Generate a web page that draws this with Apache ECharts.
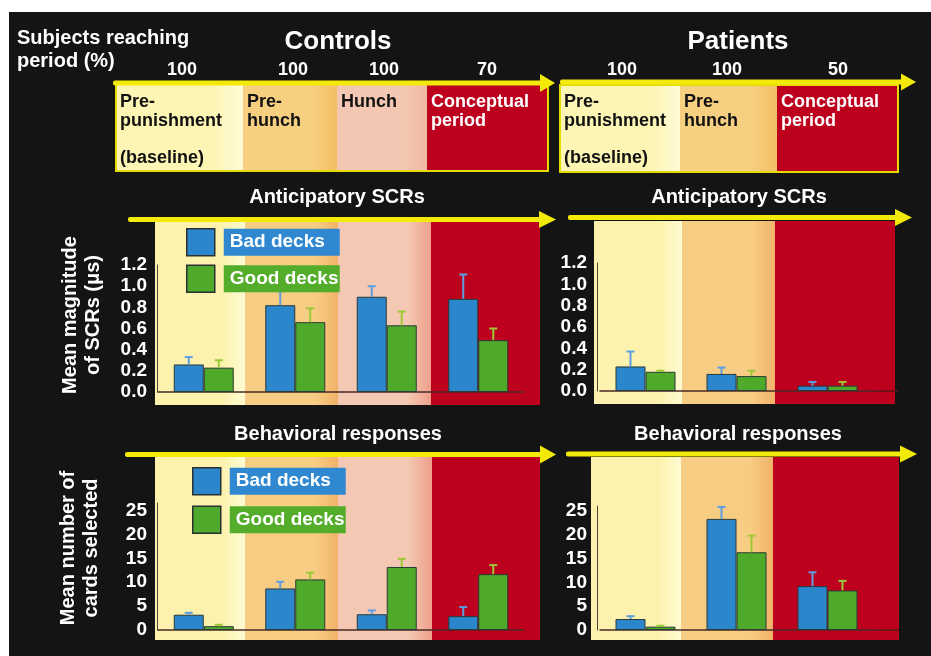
<!DOCTYPE html>
<html lang="en">
<head>
<meta charset="UTF-8">
<title>Anticipatory SCRs and behavioral responses</title>
<style>
	html,body{margin:0;padding:0;background:#fff;overflow:hidden;}
	#main{width:931px;height:656px;}
</style>
</head>
<body>
<div id="main"></div>
<script src="https://cdn.jsdelivr.net/npm/echarts@6.0.0/dist/echarts.min.js"></script>
<script>
// ---- data ----
var controlsPhases = ['Pre-punishment', 'Pre-hunch', 'Hunch', 'Conceptual period'];
var patientsPhases = ['Pre-punishment', 'Pre-hunch', 'Conceptual period'];
var controlsReaching = [100, 100, 100, 70];
var patientsReaching = [100, 100, 50];

// anticipatory SCRs (microsiemens), bar height and error length
var scrControlsBad = [0.26, 0.82, 0.90, 0.88];
var scrControlsBadErr = [0.07, 0.13, 0.10, 0.23];
var scrControlsGood = [0.23, 0.66, 0.63, 0.49];
var scrControlsGoodErr = [0.07, 0.13, 0.13, 0.11];
var scrPatientsBad = [0.23, 0.16, 0.05];
var scrPatientsBadErr = [0.14, 0.06, 0.035];
var scrPatientsGood = [0.18, 0.14, 0.05];
var scrPatientsGoodErr = [0.01, 0.05, 0.035];

// behavioral responses (mean number of cards)
var behControlsBad = [3.2, 8.7, 3.3, 2.9];
var behControlsBadErr = [0.4, 1.4, 0.8, 1.9];
var behControlsGood = [0.8, 10.6, 13.2, 11.7];
var behControlsGoodErr = [0.3, 1.4, 1.7, 1.9];
var behPatientsBad = [2.3, 23.3, 9.2];
var behPatientsBadErr = [0.6, 2.5, 2.9];
var behPatientsGood = [0.7, 16.3, 8.3];
var behPatientsGoodErr = [0.2, 3.5, 2.0];

// ---- styling ----
var FONT = '"Liberation Sans", Arial, Helvetica, sans-serif';
var BLUE = '#2c86cc', GREEN = '#4fa92a';
var BLUE_ERR = '#5d9ee0', GREEN_ERR = '#9cc834';
var EDGE = '#2a3a36';
var YEL = '#f3ea0a';
var C_PRE = ['#fcf2ae', '#fffbd2'];
var C_PH = ['#f7cd84', '#f1b268'];
var C_HU = ['#f4c8b2', '#ee9f8a'];
var C_CO = ['#bd001e', '#bd001e'];

function txt(x, y, s, size, color, align, extra) {
	var el = {type:'text', x:x, y:y, z:50, silent:true,
		style:{text:s, fill:color || '#fff', font:'bold ' + size + 'px ' + FONT,
			textAlign:align || 'left', textVerticalAlign:'middle'}};
	if (extra) for (var k in extra) el[k] = extra[k];
	return el;
}
function band(x1, x2, y1, y2, c) {
	return {type:'rect', z:-5, silent:true, shape:{x:x1, y:y1, width:x2 - x1, height:y2 - y1},
		style:{fill:{type:'linear', x:0, y:0, x2:1, y2:0,
			colorStops:[{offset:0, color:c[0]}, {offset:0.75, color:c[0]}, {offset:1, color:c[1]}]}}};
}
function arrow(x1, x2, y, hw, hh) {
	return [
		{type:'rect', z:-3, silent:true, shape:{x:x1, y:y - 2.5, width:x2 - x1 - hw + 2, height:5, r:2}, style:{fill:YEL}},
		{type:'polygon', z:-3, silent:true, shape:{points:[[x2 - hw, y - hh], [x2, y], [x2 - hw, y + hh]]}, style:{fill:YEL}}
	];
}

var graphics = [
	{type:'rect', z:-20, silent:true, shape:{x:9, y:12, width:922, height:644}, style:{fill:'#141414'}},
	txt(17, 38, 'Subjects reaching', 20),
	txt(17, 61, 'period (%)', 20),
	txt(338, 42, 'Controls', 26, '#fff', 'center'),
	txt(738, 42, 'Patients', 26, '#fff', 'center'),
	txt(337, 197, 'Anticipatory SCRs', 20, '#fff', 'center'),
	txt(739, 197, 'Anticipatory SCRs', 20, '#fff', 'center'),
	txt(338, 434, 'Behavioral responses', 20, '#fff', 'center'),
	txt(738, 434, 'Behavioral responses', 20, '#fff', 'center'),
	txt(70, 315, 'Mean magnitude', 20, '#fff', 'center', {rotation:Math.PI / 2}),
	txt(93, 315, 'of SCRs (\u03bcs)', 20, '#fff', 'center', {rotation:Math.PI / 2}),
	txt(68, 548, 'Mean number of', 20, '#fff', 'center', {rotation:Math.PI / 2}),
	txt(91, 548, 'cards selected', 20, '#fff', 'center', {rotation:Math.PI / 2})
];

// header strip: phase boxes
var hdrCtrlX = [116, 243, 337, 427, 548];
var hdrPatX = [560, 680, 777, 898];
var hdrCtrlCol = [['#fdf5b4', '#fffbd6'], ['#f6cf80', '#f3be62'], ['#f3c7b1', '#f1b9a3'], C_CO];
var hdrPatCol = [['#fdf5b4', '#fffbd6'], ['#f6cf80', '#f3be62'], C_CO];
var hdrCtrlTxt = ['Pre-\npunishment\n\n(baseline)', 'Pre-\nhunch', 'Hunch', 'Conceptual\nperiod'];
var hdrPatTxt = ['Pre-\npunishment\n\n(baseline)', 'Pre-\nhunch', 'Conceptual\nperiod'];
var numCtrlX = [182, 293, 384, 487];
var numPatX = [622, 727, 838];

function header(xs, cols, labels, nums, numX, top, bottom) {
	for (var i = 0; i < cols.length; i++) {
		graphics.push(band(xs[i], xs[i + 1], top, bottom, cols[i]));
		graphics.push({type:'text', x:xs[i] + 4, y:93, z:50, silent:true,
			style:{text:labels[i], fill:cols[i] === C_CO ? '#fff' : '#111', font:'bold 18px ' + FONT,
				lineHeight:18.7, textAlign:'left', textVerticalAlign:'top'}});
		graphics.push(txt(numX[i], 70, String(nums[i]), 18, '#fff', 'center'));
	}
	graphics.push({type:'rect', z:-4, silent:true,
		shape:{x:xs[0], y:top, width:xs[xs.length - 1] - xs[0], height:bottom - top},
		style:{fill:null, stroke:'#e4dc00', lineWidth:2}});
}
header(hdrCtrlX, hdrCtrlCol, hdrCtrlTxt, controlsReaching, numCtrlX, 84, 171);
header(hdrPatX, hdrPatCol, hdrPatTxt, patientsReaching, numPatX, 85, 172);
graphics = graphics.concat(arrow(113, 555, 83, 15, 9), arrow(560, 916, 82, 15, 8.5));

// chart panels: coloured phase bands behind the plots
function bands(xs, cols, top, bottom) {
	for (var i = 0; i < cols.length; i++) graphics.push(band(xs[i], xs[i + 1], top, bottom, cols[i]));
}
bands([155, 245, 338, 431, 540], [C_PRE, C_PH, C_HU, C_CO], 222, 405);
bands([594, 682, 775, 895], [C_PRE, C_PH, C_CO], 221, 404);
bands([155, 245, 338, 432, 540], [C_PRE, C_PH, C_HU, C_CO], 457, 640);
bands([591, 681, 773, 899], [C_PRE, C_PH, C_CO], 457, 640);
graphics = graphics.concat(
	arrow(128, 556, 219.5, 17, 8.5), arrow(568, 912, 217.5, 17, 8.5),
	arrow(125, 556, 454.5, 16, 9), arrow(566, 917, 454, 17, 8.5));
// zero line continues a little past the last patient bars
graphics.push({type:'line', z:-2, silent:true, shape:{x1:873, y1:391, x2:898, y2:391}, style:{stroke:'#5a1a1a', lineWidth:1.5}});
graphics.push({type:'line', z:-2, silent:true, shape:{x1:873, y1:630, x2:899, y2:630}, style:{stroke:'#5a1a1a', lineWidth:1.5}});

// ---- grids / axes ----
var grids = [
	{left:158, top:265, width:366, height:127},
	{left:600, top:263, width:273, height:128},
	{left:158, top:503, width:366, height:127},
	{left:600, top:506, width:273, height:124}
];
var cats = [controlsPhases, patientsPhases, controlsPhases, patientsPhases];
var maxes = [1.2, 1.2, 26.6, 26];
var xAxes = [], yAxes = [];
for (var g = 0; g < 4; g++) {
	xAxes.push({gridIndex:g, type:'category', data:cats[g],
		axisLine:{lineStyle:{color:'#4a2a24', width:1.5}}, axisTick:{show:false}, axisLabel:{show:false}});
	yAxes.push({gridIndex:g, type:'value', min:0, max:maxes[g], interval:g < 2 ? 0.2 : 5,
		offset:g % 2 ? 3 : 1,
		axisLine:{show:true, lineStyle:{color:'#4a4a38', width:1}}, axisTick:{show:false}, splitLine:{show:false},
		axisLabel:{color:'#fff', fontFamily:FONT, fontWeight:'bold', fontSize:19, margin:10,
			formatter:g < 2 ? function (v) { return v.toFixed(1); } : function (v) { return v > 25 ? '' : v; }}});
}

function errSeries(gi, vals, errs, shift, color) {
	return {type:'custom', name:'err', xAxisIndex:gi, yAxisIndex:gi, z:3, silent:true,
		encode:{x:0, y:1},
		data:vals.map(function (v, i) { return [i, v, v + errs[i]]; }),
		renderItem:function (params, api) {
			var lo = api.coord([api.value(0), api.value(1)]);
			var hi = api.coord([api.value(0), api.value(2)]);
			var x = lo[0] + shift;
			return {type:'group', children:[
				{type:'line', shape:{x1:x, y1:lo[1], x2:x, y2:hi[1]}, style:{stroke:color, lineWidth:2}},
				{type:'line', shape:{x1:x - 4, y1:hi[1], x2:x + 4, y2:hi[1]}, style:{stroke:color, lineWidth:2}}
			]};
		}};
}
function panel(gi, bad, badErr, good, goodErr) {
	return [
		{name:'Bad decks', type:'bar', xAxisIndex:gi, yAxisIndex:gi, data:bad, barWidth:30, barGap:'0%',
			itemStyle:{color:BLUE, borderColor:EDGE, borderWidth:1}},
		{name:'Good decks', type:'bar', xAxisIndex:gi, yAxisIndex:gi, data:good, barWidth:30, barGap:'0%',
			itemStyle:{color:GREEN, borderColor:EDGE, borderWidth:1}},
		errSeries(gi, bad, badErr, -15, BLUE_ERR),
		errSeries(gi, good, goodErr, 15, GREEN_ERR)
	];
}
var series = [].concat(
	panel(0, scrControlsBad, scrControlsBadErr, scrControlsGood, scrControlsGoodErr),
	panel(1, scrPatientsBad, scrPatientsBadErr, scrPatientsGood, scrPatientsGoodErr),
	panel(2, behControlsBad, behControlsBadErr, behControlsGood, behControlsGoodErr),
	panel(3, behPatientsBad, behPatientsBadErr, behPatientsGood, behPatientsGoodErr));

function legend(left, top, gap) {
	return {left:left, top:top, orient:'vertical', padding:0, itemGap:gap, itemWidth:28, itemHeight:27,
		selectedMode:false, icon:'rect', data:['Bad decks', 'Good decks'],
		itemStyle:{borderColor:'#2a3030', borderWidth:1.5},
		formatter:function (name) { return '{s|}' + (name === 'Bad decks' ? '{b|' : '{g|') + name + '}'; },
		textStyle:{rich:{
			s:{width:4},
			b:{backgroundColor:'#2f88d0', color:'#fff', fontFamily:FONT, fontWeight:'bold', fontSize:19,
				width:104, height:27, lineHeight:27, padding:[0, 6]},
			g:{backgroundColor:'#53ad2a', color:'#fff', fontFamily:FONT, fontWeight:'bold', fontSize:19,
				width:104, height:27, lineHeight:27, padding:[0, 6]}
		}}};
}

var myChart = echarts.init(document.getElementById('main'), null, {renderer:'canvas'});
myChart.setOption({
	backgroundColor:'transparent',
	animation:false,
	grid:grids,
	xAxis:xAxes,
	yAxis:yAxes,
	legend:[legend(186, 228, 8), legend(192, 467, 10)],
	graphic:{elements:graphics},
	series:series
});
</script>
</body>
</html>
